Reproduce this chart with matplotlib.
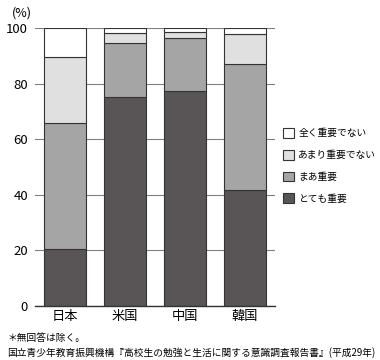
import numpy as np
import matplotlib
matplotlib.use("Agg")
import matplotlib.pyplot as plt
from matplotlib.patches import Patch

plt.rcParams['font.family'] = ['Noto Sans CJK JP', 'DejaVu Sans']

# ---- data (%)
countries = ['日本', '米国', '中国', '韓国']
very_important = [20.6, 75.3, 77.3, 41.8]
somewhat_important = [45.1, 19.5, 19.3, 45.1]
not_very_important = [24.0, 3.6, 2.0, 10.9]
not_important = [10.3, 1.6, 1.4, 2.2]

series = [very_important, somewhat_important, not_very_important, not_important]
labels = ['とても重要', 'まあ重要', 'あまり重要でない', '全く重要でない']
colors = ['#595556', '#a5a5a5', '#e0e0e0', '#ffffff']

fig = plt.figure(figsize=(3.8, 3.6), dpi=100)
ax = fig.add_axes([0.092, 0.15, 0.632, 0.772])

x = np.arange(len(countries))
bottom = np.zeros(len(countries))
for vals, col in zip(series, colors):
    ax.bar(x, vals, 0.70, bottom=bottom, color=col, edgecolor='#333333',
           linewidth=0.8, zorder=3)
    bottom += np.array(vals)

ax.set_xlim(-0.5, 3.5)
ax.set_ylim(0, 100)
ax.set_yticks([0, 20, 40, 60, 80, 100])
ax.set_xticks(x)
ax.set_xticklabels(countries, fontsize=9.5)
ax.tick_params(axis='y', labelsize=9.5, length=0, pad=5)
ax.tick_params(axis='x', length=0, pad=3)
ax.yaxis.grid(True, color='#808080', linewidth=0.8, zorder=0)
for s in ['top', 'right', 'left']:
    ax.spines[s].set_visible(False)
ax.spines['bottom'].set_color('#333333')
ax.spines['bottom'].set_linewidth(1.0)
ax.spines['bottom'].set_zorder(4)

fig.text(0.03, 0.965, '(%)', fontsize=9, va='center', ha='left')

handles = [Patch(facecolor=c, edgecolor='#333333', linewidth=0.8) for c in colors]
leg = fig.legend(handles[::-1], labels[::-1], loc='upper left',
                 bbox_to_anchor=(0.735, 0.655), frameon=False, fontsize=7,
                 handlelength=1.15, handleheight=1.15, handletextpad=0.4,
                 labelspacing=1.2, borderaxespad=0)

fig.text(0.02, 0.062, '＊無回答は除く。', fontsize=7, va='center', ha='left')
fig.text(0.02, 0.022, '国立青少年教育振興機構『高校生の勉強と生活に関する意識調査報告書』(平成29年)',
         fontsize=7, va='center', ha='left')

fig.savefig('out.png', dpi=100)
